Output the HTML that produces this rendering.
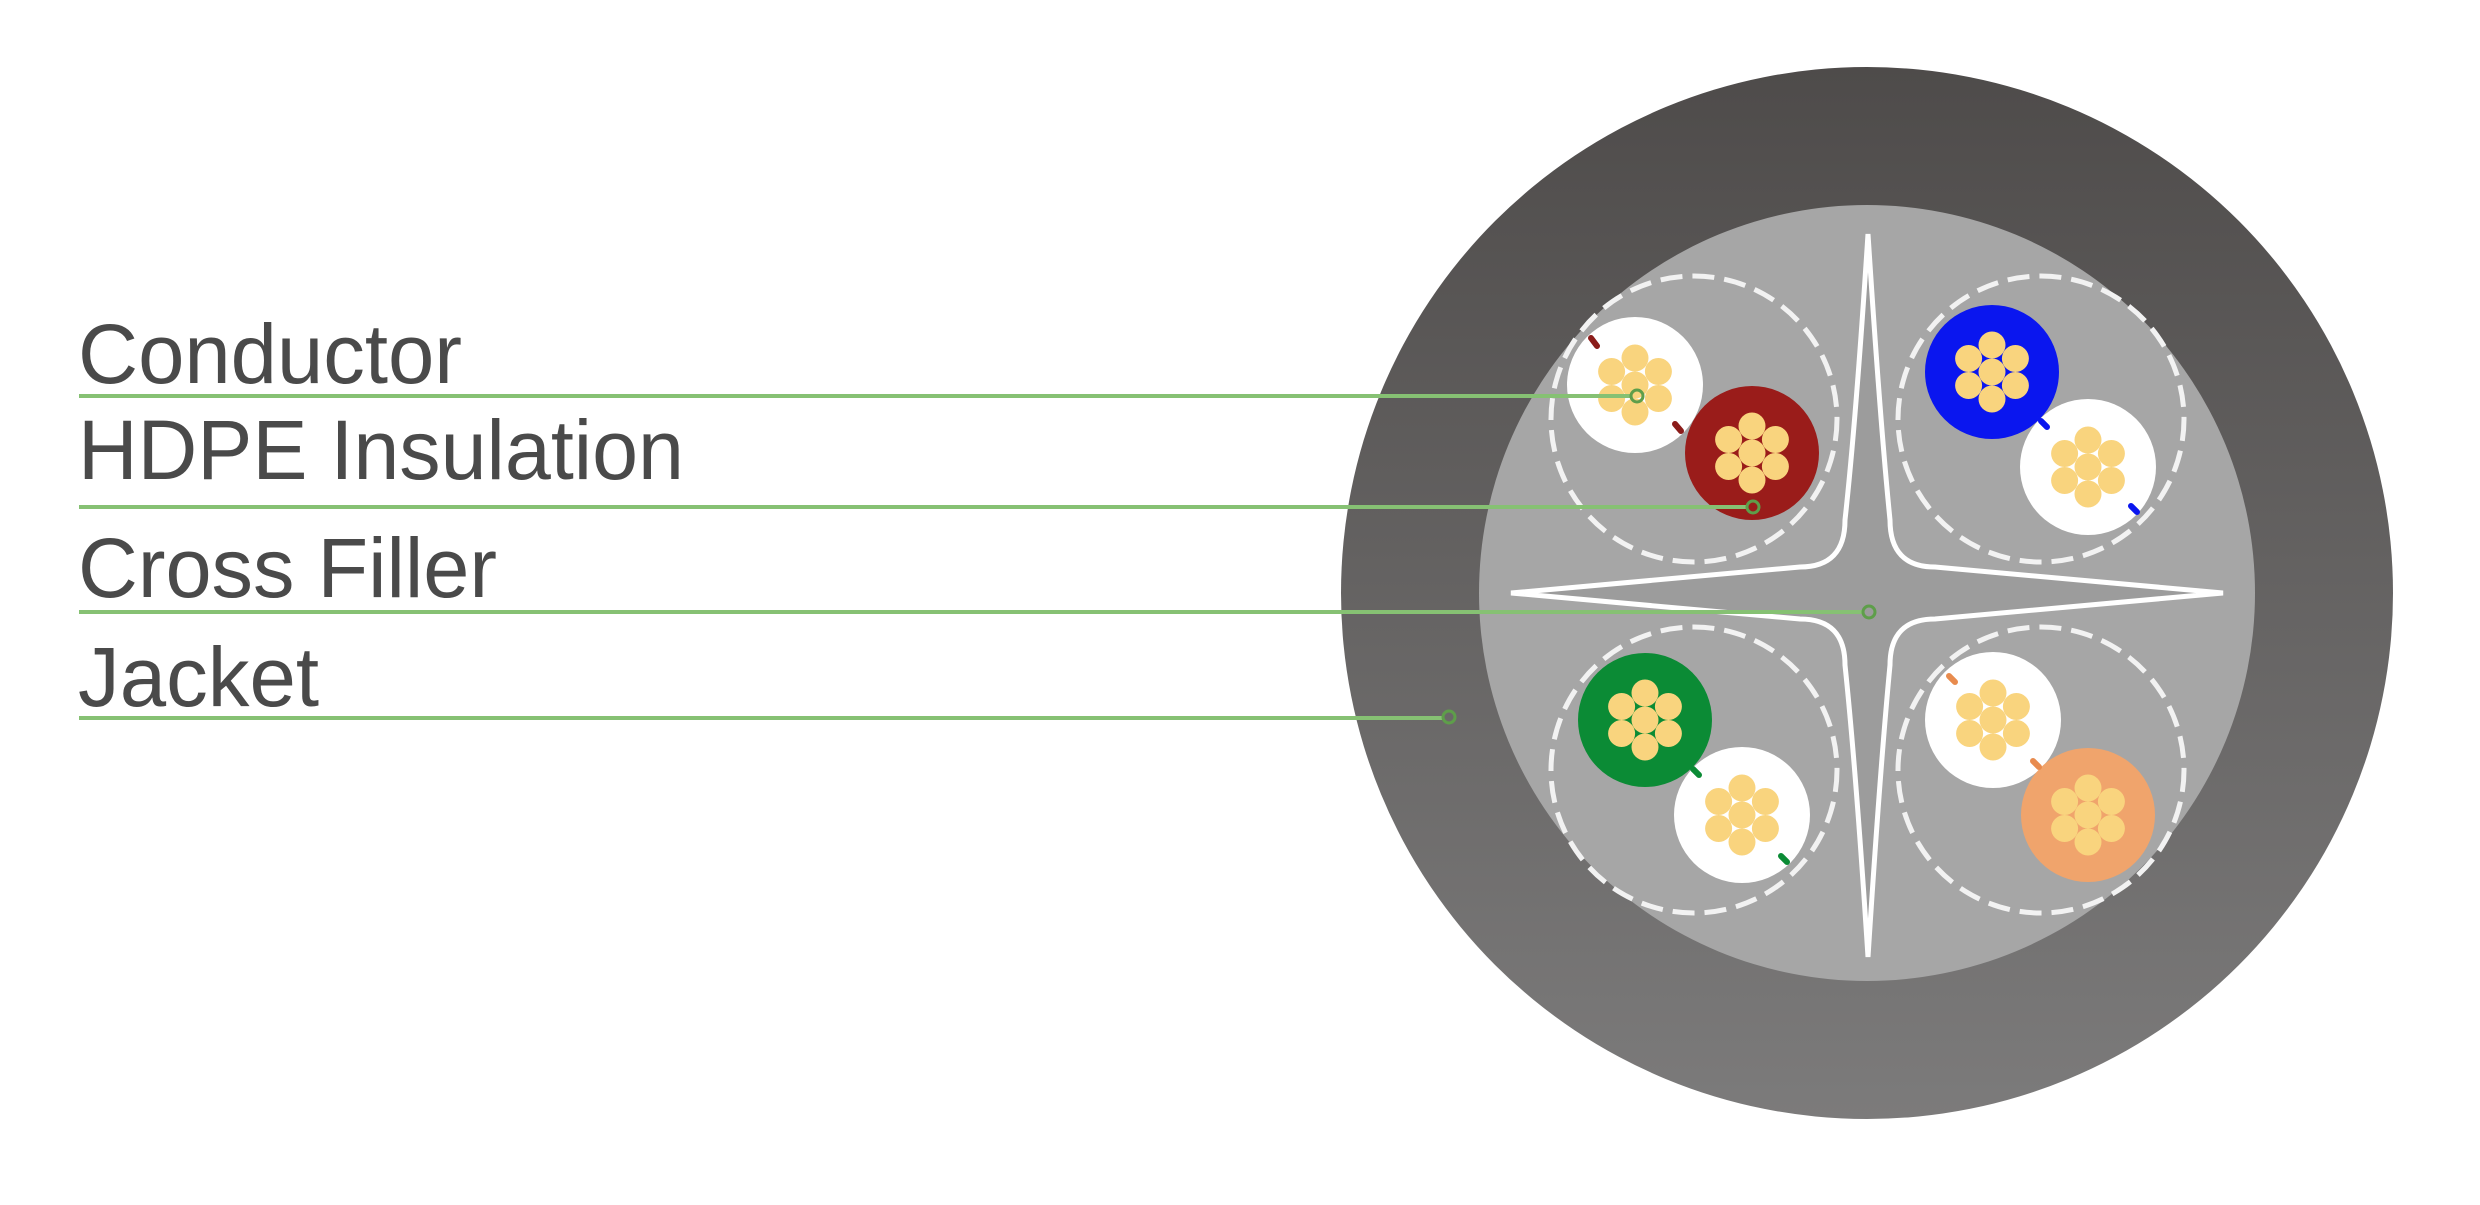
<!DOCTYPE html>
<html><head><meta charset="utf-8"><style>
html,body{margin:0;padding:0;background:#fff;}
svg{display:block;}
text{font-family:"Liberation Sans",Arial,sans-serif;fill:#4a4a4a;}
</style></head><body>
<svg width="2480" height="1205" viewBox="0 0 2480 1205" xmlns="http://www.w3.org/2000/svg">
<defs>
<linearGradient id="jk" x1="0" y1="0" x2="0" y2="1">
<stop offset="0" stop-color="#4e4b4a"/><stop offset="1" stop-color="#7c7b7b"/>
</linearGradient>
<g id="str">
<circle cx="0" cy="0" r="13.5" fill="#f9d47e"/>
<circle cx="0" cy="-27" r="13.5" fill="#f9d47e"/>
<circle cx="0" cy="27" r="13.5" fill="#f9d47e"/>
<circle cx="-23.4" cy="-13.5" r="13.5" fill="#f9d47e"/>
<circle cx="23.4" cy="-13.5" r="13.5" fill="#f9d47e"/>
<circle cx="-23.4" cy="13.5" r="13.5" fill="#f9d47e"/>
<circle cx="23.4" cy="13.5" r="13.5" fill="#f9d47e"/>
</g>
</defs>
<rect width="2480" height="1205" fill="#fff"/>
<circle cx="1867" cy="593" r="526" fill="url(#jk)"/>
<circle cx="1867" cy="593" r="388" fill="#a6a6a6"/>
<path d="M1868,234 Q1880,420 1890,520 Q1890,567 1935,567 Q2080,580 2223,593 Q2080,606 1935,619 Q1890,619 1890,665 Q1880,770 1868,957 Q1856,770 1845,665 Q1845,619 1800,619 Q1650,606 1511,593 Q1650,580 1800,567 Q1845,567 1845,520 Q1856,420 1868,234 Z" fill="#9c9c9c" stroke="#fff" stroke-width="5"/>
<g fill="none" stroke="#f2f2f2" stroke-width="5" stroke-dasharray="22 10">
<circle cx="1694" cy="419" r="143"/>
<circle cx="2041" cy="419" r="143"/>
<circle cx="1694" cy="770" r="143"/>
<circle cx="2041" cy="770" r="143"/>
</g>
<circle cx="1635" cy="385" r="68" fill="#fff"/><use href="#str" x="1635" y="385"/>
<circle cx="1752" cy="453" r="67" fill="#9a1c1a"/><use href="#str" x="1752" y="453"/>
<circle cx="1992" cy="372" r="67" fill="#0a16ef"/><use href="#str" x="1992" y="372"/>
<circle cx="2088" cy="467" r="68" fill="#fff"/><use href="#str" x="2088" y="467"/>
<circle cx="1645" cy="720" r="67" fill="#0b8b35"/><use href="#str" x="1645" y="720"/>
<circle cx="1742" cy="815" r="68" fill="#fff"/><use href="#str" x="1742" y="815"/>
<circle cx="1993" cy="720" r="68" fill="#fff"/><use href="#str" x="1993" y="720"/>
<circle cx="2088" cy="815" r="67" fill="#f0a46c"/><use href="#str" x="2088" y="815"/>
<g stroke-width="6" stroke-linecap="round">
<line x1="1591" y1="338" x2="1597" y2="346" stroke="#8b1c1a"/>
<line x1="1675" y1="424" x2="1681" y2="431" stroke="#8b1c1a"/>
<line x1="2041" y1="421" x2="2047" y2="427" stroke="#0a16ef"/>
<line x1="2131" y1="506" x2="2137" y2="512" stroke="#0a16ef"/>
<line x1="1693" y1="769" x2="1699" y2="775" stroke="#0b8b35"/>
<line x1="1781" y1="856" x2="1787" y2="862" stroke="#0b8b35"/>
<line x1="1949" y1="676" x2="1955" y2="682" stroke="#e88b4e"/>
<line x1="2033" y1="761" x2="2039" y2="767" stroke="#e88b4e"/>
</g>
<g stroke="#86c173" stroke-width="4" fill="none">
<line x1="79" y1="396" x2="1631" y2="396"/>
<line x1="79" y1="507" x2="1747" y2="507"/>
<line x1="79" y1="612" x2="1863" y2="612"/>
<line x1="79" y1="718" x2="1443" y2="718"/>
</g>
<g stroke="#5e9e4a" stroke-width="3" fill="none">
<circle cx="1637" cy="396" r="6"/>
<circle cx="1753" cy="507" r="6"/>
<circle cx="1869" cy="612" r="6"/>
<circle cx="1449" cy="717" r="6"/>
</g>
<text x="78" y="383" font-size="84" textLength="384" lengthAdjust="spacingAndGlyphs">Conductor</text>
<text x="78" y="479" font-size="84" textLength="606" lengthAdjust="spacingAndGlyphs">HDPE Insulation</text>
<text x="78" y="597" font-size="84" textLength="419" lengthAdjust="spacingAndGlyphs">Cross Filler</text>
<text x="78" y="706" font-size="84" textLength="241" lengthAdjust="spacingAndGlyphs">Jacket</text>
</svg>
</body></html>
